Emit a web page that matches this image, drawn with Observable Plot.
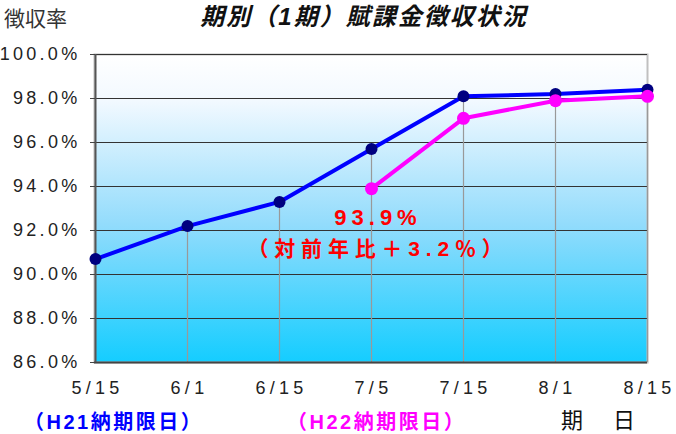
<!DOCTYPE html>
<html>
<head>
<meta charset="utf-8">
<script src="https://cdn.jsdelivr.net/npm/d3@7"></script>
<script src="https://cdn.jsdelivr.net/npm/@observablehq/plot@0.6"></script>
<style>
  html, body { margin: 0; padding: 0; background: #fff; }
  #chart { width: 676px; height: 434px; }
</style>
</head>
<body>
<div id="chart"></div>
<script>
// ---- data ----
const dates = ["5/15", "6/1", "6/15", "7/5", "7/15", "8/1", "8/15"];
const h21Values = [90.7, 92.2, 93.3, 95.7, 98.1, 98.2, 98.4];
const h22Dates = ["7/5", "7/15", "8/1", "8/15"];
const h22Values = [93.9, 97.1, 97.9, 98.1];
const yTicks = [86, 88, 90, 92, 94, 96, 98, 100];
const yDomain = [86, 100];

const h21 = dates.map((d, i) => ({date: d, v: h21Values[i]}));
const h22 = h22Dates.map((d, i) => ({date: d, v: h22Values[i]}));
const drops = dates.map(d => {
  const vals = [...h21, ...h22].filter(r => r.date === d).map(r => r.v);
  return {date: d, top: Math.max(...vals)};
});

const FONT = '"Liberation Sans", Arial, "Noto Sans CJK JP", sans-serif';

const plot = Plot.plot({
  width: 676,
  height: 434,
  marginLeft: 94,
  marginRight: 29,
  marginTop: 54,
  marginBottom: 72,
  style: {fontFamily: FONT, fontSize: "18px", color: "#222", background: "#fff"},
  x: {type: "point", domain: dates, padding: 0, label: null},
  y: {domain: yDomain, label: null},
  marks: [
    Plot.frame({fill: "url(#bgGrad)", stroke: "#c0c0c0", strokeWidth: 2}),
    Plot.gridY(yTicks, {stroke: "#333", strokeOpacity: 1, strokeWidth: 1}),
    Plot.ruleX(drops, {x: "date", y1: yDomain[0], y2: "top", stroke: "#999", strokeWidth: 1.2}),
    Plot.ruleY([yDomain[0]], {stroke: "#444", strokeWidth: 2}),
    Plot.ruleX([dates[0]], {stroke: "#555", strokeWidth: 2}),
    Plot.axisY({ticks: yTicks, tickFormat: d => d.toFixed(1) + "%", tickSize: 4, tickPadding: 10, fontSize: 18, stroke: "#444", label: null}),
    Plot.axisX({tickSize: 0, tickPadding: 19, fontSize: 18, dx: 2, label: null}),
    Plot.line(h21, {x: "date", y: "v", stroke: "#0000ff", strokeWidth: 4}),
    Plot.dot(h21, {x: "date", y: "v", r: 6, fill: "#000080", stroke: null}),
    Plot.line(h22, {x: "date", y: "v", stroke: "#ff00ff", strokeWidth: 4}),
    Plot.dot(h22, {x: "date", y: "v", r: 6.5, fill: "#ff00ff", stroke: null})
  ]
});

const svg = d3.select(plot);
svg.selectAll("g[aria-label='y-axis tick label'] text").style("letter-spacing", "3.3px");
svg.selectAll("g[aria-label='x-axis tick label'] text").style("letter-spacing", "4.3px");

const defs = svg.insert("defs", ":first-child");
const g = defs.append("linearGradient").attr("id", "bgGrad")
  .attr("x1", 0).attr("y1", 0).attr("x2", 0).attr("y2", 1);
g.append("stop").attr("offset", "0%").attr("stop-color", "#ffffff");
g.append("stop").attr("offset", "15%").attr("stop-color", "#f2f9ff");
g.append("stop").attr("offset", "55%").attr("stop-color", "#93dcfc");
g.append("stop").attr("offset", "100%").attr("stop-color", "#14cdff");

function addText(x, y, txt, opts) {
  return svg.append("text")
    .attr("x", x).attr("y", y)
    .attr("text-anchor", opts.anchor || "start")
    .attr("font-family", FONT)
    .attr("font-size", opts.size)
    .attr("font-weight", opts.weight || "normal")
    .attr("font-style", opts.style || "normal")
    .attr("fill", opts.fill || "#222")
    .style("letter-spacing", (opts.ls || 0) + "px")
    .text(txt);
}

addText(4, 26, "徴収率", {size: 21, fill: "#333"});
addText(364, 25, "期別（1期）賦課金徴収状況", {size: 24, weight: "bold", style: "italic", anchor: "middle", fill: "#111", ls: 2});
addText(378, 225, "93.9%", {size: 22, weight: "bold", anchor: "middle", fill: "#ff0000", ls: 5});
addText(378, 256, "（対前年比＋3.2％）", {size: 21, weight: "bold", anchor: "middle", fill: "#ff0000", ls: 5.8});
addText(24, 429, "（H21納期限日）", {size: 20, weight: "bold", fill: "#0000ff", ls: 2.5});
addText(287, 429, "（H22納期限日）", {size: 20, weight: "bold", fill: "#ff00ff", ls: 2.5});
addText(561, 428, "期　日", {size: 22, fill: "#111", ls: 4});

document.getElementById("chart").appendChild(plot);
</script>
</body>
</html>
